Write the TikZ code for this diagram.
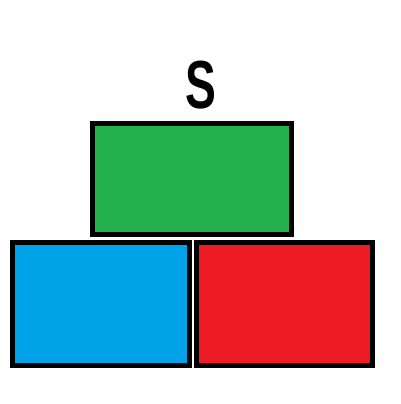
\documentclass[tikz,border=0pt]{standalone}
\usepackage{fontspec}
\setmainfont{Liberation Sans}
\definecolor{pgreen}{HTML}{23B14D}
\definecolor{pblue}{HTML}{00A2E8}
\definecolor{pred}{HTML}{ED1C24}
\begin{document}
\begin{tikzpicture}[x=1pt,y=-1pt,
  block/.style={draw=black,line width=5pt,inner sep=0pt,outer sep=0pt,rectangle},
  lbl/.style={font=\fontsize{68}{68}\selectfont\bfseries,inner sep=0pt,anchor=base,xscale=0.68}]
\useasboundingbox (0,0) rectangle (400,404);
\fill[white] (0,0) rectangle (400,404);
\node[block,fill=pgreen,minimum width=199pt,minimum height=111pt] (green) at (192,179) {};
\node[block,fill=pblue,minimum width=177pt,minimum height=123pt] (blue) at (101,304) {};
\node[block,fill=pred,minimum width=176pt,minimum height=123pt] (red) at (284.5,304) {};
\node[lbl] (s) at (200.7,108.3) {S};
\end{tikzpicture}
\end{document}
